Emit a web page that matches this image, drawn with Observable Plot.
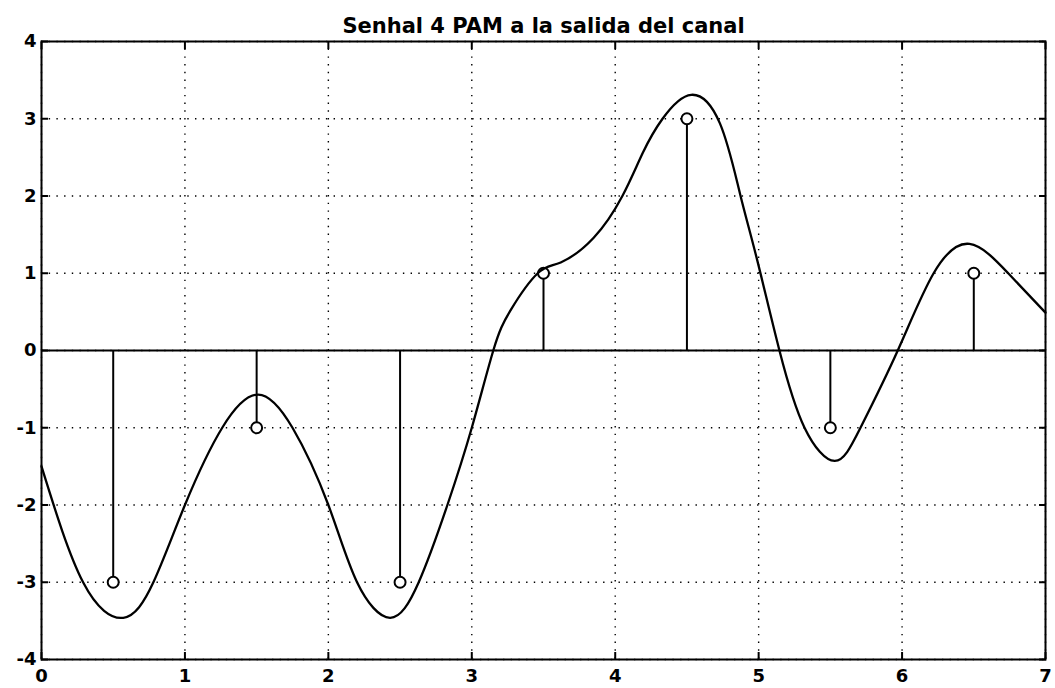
<!DOCTYPE html>
<html>
<head>
<meta charset="utf-8">
<script src="https://cdn.jsdelivr.net/npm/d3@7"></script>
<script src="https://cdn.jsdelivr.net/npm/@observablehq/plot@0.6"></script>
<style>
  html, body { margin: 0; padding: 0; background: #fff; }
  #chart svg { display: block; }
</style>
</head>
<body>
<div id="chart"></div>
<script>
// Title and tick labels
const title = "Senhal 4 PAM a la salida del canal";
const xTicks = [0, 1, 2, 3, 4, 5, 6, 7];
const yTicks = [-4, -3, -2, -1, 0, 1, 2, 3, 4];

// Transmitted 4-PAM symbols (stems)
const symbolTimes = [0.5, 1.5, 2.5, 3.5, 4.5, 5.5, 6.5];
const symbolValues = [-3, -1, -3, 1, 3, -1, 1];

// Channel output signal
const signalX = [0, 0.29, 0.57, 0.78, 1.0, 1.26, 1.51, 1.75, 2.0, 2.20, 2.43, 2.63, 2.83, 3.0, 3.15, 3.27, 3.46, 3.62, 3.85, 4.05, 4.19, 4.33, 4.53, 4.73, 4.87, 4.99, 5.145, 5.32, 5.53, 5.71, 5.97, 6.22, 6.47, 6.74, 7.0];
const signalY = [-1.5, -3.0, -3.46, -3.0, -2.0, -1.0, -0.57, -1.0, -2.0, -3.0, -3.46, -3.0, -2.0, -1.0, 0, 0.52, 1.0, 1.14, 1.46, 2.0, 2.55, 3.0, 3.31, 2.94, 2.03, 1.17, 0, -1.0, -1.43, -1.0, 0, 1.0, 1.38, 1.0, 0.49];

const symbols = symbolTimes.map((t, i) => ({t, v: symbolValues[i]}));
const signal = signalX.map((x, i) => ({x, y: signalY[i]}));

const gridStyle = {stroke: "black", strokeOpacity: 1, strokeWidth: 1.4, strokeDasharray: "1.4,6.3"};
const fmt = d => String(d);

const chart = Plot.plot({
  width: 1055,
  height: 688,
  marginLeft: 41,
  marginRight: 10,
  marginTop: 41,
  marginBottom: 29,
  x: {domain: [0, 7]},
  y: {domain: [-4, 4]},
  style: {fontFamily: "'DejaVu Sans', Verdana, sans-serif", fontSize: "18px", fontWeight: "bold", color: "black", background: "white"},
  marks: [
    Plot.gridX(xTicks, gridStyle),
    Plot.gridY(yTicks, gridStyle),
    Plot.ruleY([0], {stroke: "black", strokeWidth: 2}),
    Plot.ruleX(symbols, {x: "t", y1: 0, y2: "v", stroke: "black", strokeWidth: 2}),
    Plot.dot(symbols, {x: "t", y: "v", r: 5.5, stroke: "black", strokeWidth: 2, fill: "white"}),
    Plot.line(signal, {x: "x", y: "y", curve: "natural", stroke: "black", strokeWidth: 2.3}),
    // inward ticks on all four sides
    Plot.axisX(xTicks, {anchor: "bottom", tickSize: -7, tickFormat: () => "", label: null, strokeWidth: 2}),
    Plot.axisX(xTicks, {anchor: "top", tickSize: -7, tickFormat: () => "", label: null, strokeWidth: 2}),
    Plot.axisY(yTicks, {anchor: "left", tickSize: -7, tickFormat: () => "", label: null, strokeWidth: 2}),
    Plot.axisY(yTicks, {anchor: "right", tickSize: -7, tickFormat: () => "", label: null, strokeWidth: 2}),
    // tick labels
    Plot.axisX(xTicks, {anchor: "bottom", tickSize: 0, tickPadding: 10, tickFormat: fmt, label: null, fontSize: 18, fontWeight: "bold"}),
    Plot.axisY(yTicks, {anchor: "left", tickSize: 0, tickPadding: 5, tickFormat: fmt, label: null, fontSize: 18, fontWeight: "bold"}),
    Plot.frame({stroke: "black", strokeWidth: 2}),
    Plot.text([title], {text: d => d, frameAnchor: "top", dy: -23, fontSize: 21, fontWeight: "bold", fill: "black"})
  ]
});
document.getElementById("chart").appendChild(chart);
</script>
</body>
</html>
